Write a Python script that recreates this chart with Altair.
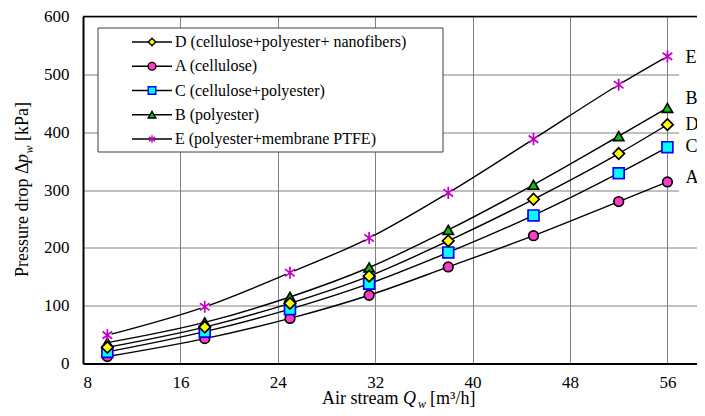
import altair as alt
import pandas as pd

# ---------------- data ----------------
flow = [10, 18, 25, 31.5, 38, 45, 52, 56]          # air stream Q_w [m3/h]
series_A = [12, 43, 78, 118, 167, 221, 280, 314]    # cellulose
series_B = [36, 71, 115, 166, 231, 309, 393, 442]   # polyester
series_C = [20, 55, 94, 138, 192, 256, 329, 374]    # cellulose+polyester
series_D = [28, 63, 104, 151, 212, 284, 363, 413]   # cellulose+polyester+nanofibers
series_E = [49, 98, 157, 217, 295, 388, 482, 531]   # polyester+membrane PTFE

series_names = ["A", "B", "C", "D", "E"]
legend_order = ["D", "A", "C", "B", "E"]
legend_labels = {
    "D": "D (cellulose+polyester+ nanofibers)",
    "A": "A (cellulose)",
    "C": "C (cellulose+polyester)",
    "B": "B (polyester)",
    "E": "E (polyester+membrane PTFE)",
}
x_ticks = [8, 16, 24, 32, 40, 48, 56]
y_ticks = [0, 100, 200, 300, 400, 500, 600]

values = {"A": series_A, "B": series_B, "C": series_C, "D": series_D, "E": series_E}
rows = []
for s in series_names:
    for q, p in zip(flow, values[s]):
        rows.append({"series": s, "flow": q, "dp": p})
df = pd.DataFrame(rows)

legend_df = pd.DataFrame(
    [{"series": s, "label": legend_labels[s], "idx": i} for i, s in enumerate(legend_order)]
)

# ---------------- styles ----------------
W, H = 614, 347
SERIF = "Liberation Serif, Times New Roman, Times, DejaVu Serif, serif"
asterisk = "M-0.8,-0.6L0.8,0.6M-0.8,0.6L0.8,-0.6M0,-1L0,1"
shape_range = ["circle", "triangle-up", "square", "diamond", asterisk]
fill_range = ["#FF3CC8", "#00CC00", "#00FFFF", "#FFFF00", "transparent"]
stroke_range = ["black", "black", "#0000FF", "black", "#C000C0"]
size_range = [92, 145, 95, 118, 160]
legend_size_range = [60, 55, 60, 50, 75]
# label nudges (data units) for the end labels
label_nudge = {"A": 6, "B": 16, "C": 0, "D": 0, "E": -3}

xscale = alt.Scale(domain=[8, 58.43], nice=False, zero=False)
yscale = alt.Scale(domain=[0, 600], nice=False)

X = alt.X("flow:Q", scale=xscale,
          axis=alt.Axis(values=x_ticks, title=None, grid=True, labelPadding=11,
                        format="d"))
Y = alt.Y("dp:Q", scale=yscale,
          axis=alt.Axis(values=y_ticks, title=None, grid=True, labelPadding=14,
                        format="d"))

shape_enc = alt.Shape("series:N", scale=alt.Scale(domain=series_names, range=shape_range), legend=None)
fill_enc = alt.Fill("series:N", scale=alt.Scale(domain=series_names, range=fill_range), legend=None)
stroke_enc = alt.Stroke("series:N", scale=alt.Scale(domain=series_names, range=stroke_range), legend=None)

lines = alt.Chart(df).mark_line(color="black", strokeWidth=1.4, interpolate="monotone").encode(
    x=X, y=Y, detail="series:N"
)

e_bg = alt.Chart(df).transform_filter("datum.series == 'E'").mark_point(
    shape="circle", filled=True, fill="white", opacity=1, size=80, strokeWidth=0
).encode(x=X, y=Y)

points = alt.Chart(df).mark_point(opacity=1, strokeWidth=1.7).encode(
    x=X, y=Y, shape=shape_enc, fill=fill_enc, stroke=stroke_enc,
    size=alt.Size("series:N", scale=alt.Scale(domain=series_names, range=size_range), legend=None),
)

# white strip behind the end labels
strip = alt.Chart().mark_rect(fill="white").encode(
    x=alt.value(596), x2=alt.value(W), y=alt.value(1), y2=alt.value(200)
)

nudge_expr = " : ".join(
    [f"datum.series == '{k}' ? {v}" for k, v in label_nudge.items()]
) + " : 0"
end_labels = alt.Chart(df).transform_filter(f"datum.flow == {flow[-1]}").transform_calculate(
    ly=f"datum.dp + ({nudge_expr})"
).mark_text(font=SERIF, fontSize=18, align="left", baseline="middle", dx=18, color="black").encode(
    x=X, y=alt.Y("ly:Q", scale=yscale), text="series:N"
)

top_border = alt.Chart().mark_rule(color="black", strokeWidth=1.5).encode(
    x=alt.value(0), x2=alt.value(W), y=alt.value(0)
)

# ---------------- custom legend ----------------
legend_box = alt.Chart().mark_rect(fill="white", stroke="#404040", strokeWidth=1).encode(
    x=alt.value(15), x2=alt.value(360), y=alt.value(11.5), y2=alt.value(135.5)
)
leg_base = alt.Chart(legend_df).transform_calculate(ly="25.5 + 24.25 * datum.idx")
leg_lines = leg_base.mark_rule(color="black", strokeWidth=1.4).encode(
    x=alt.value(49), x2=alt.value(89), y=alt.Y("ly:Q", scale=None)
)
leg_pts = leg_base.mark_point(opacity=1, strokeWidth=1.4).encode(
    x=alt.value(69), y=alt.Y("ly:Q", scale=None),
    shape=shape_enc, fill=fill_enc, stroke=stroke_enc,
    size=alt.Size("series:N", scale=alt.Scale(domain=series_names, range=legend_size_range), legend=None),
)
leg_text = leg_base.mark_text(font=SERIF, fontSize=16, align="left", baseline="middle", color="black").encode(
    x=alt.value(92), y=alt.Y("ly:Q", scale=None), text="label:N"
)

# ---------------- axis titles (rich text built from parts) ----------------
def txt(text, x, y, size=18, italic=False, angle=0, dy=0, baseline="alphabetic"):
    kw = dict(text=text, font=SERIF, fontSize=size, align="left", baseline=baseline,
              color="black", dy=dy)
    if italic:
        kw["fontStyle"] = "italic"
    if angle:
        kw["angle"] = angle
    return alt.Chart().mark_text(**kw).encode(x=alt.value(x), y=alt.value(y))

xt_y = 387
x_title = [
    txt("Air stream", 239, xt_y),
    txt("Q", 320, xt_y, italic=True),
    txt("w", 335, xt_y, size=12, italic=True, dy=4),
    txt("[m³/h]", 347, xt_y),
]
yt_x = -60
y_title = [
    txt("Pressure drop Δ", yt_x, 260.5, angle=270, baseline="middle"),
    txt("p", yt_x, 146.5, italic=True, angle=270, baseline="middle"),
    txt("w", yt_x, 137, size=12, italic=True, angle=270, baseline="middle", dy=6),
    txt("[kPa]", yt_x, 124.5, angle=270, baseline="middle"),
]

chart = alt.layer(
    lines, e_bg, points, strip, end_labels, top_border,
    legend_box, leg_lines, leg_pts, leg_text,
    *x_title, *y_title,
).resolve_scale(size="independent").properties(
    width=W, height=H,
    autosize=alt.AutoSizeParams(type="none"),
    padding={"left": 75, "top": 8.5, "right": 0, "bottom": 44.5},
).configure_view(stroke=None).configure_axis(
    gridColor="#808080", gridWidth=1, gridOpacity=1,
    domainColor="black", domainWidth=2,
    ticks=False, tickSize=0,
    labelFont=SERIF, labelFontSize=17, labelColor="black",
)

chart.save("out.html", embed_options={"renderer": "svg", "actions": False})
